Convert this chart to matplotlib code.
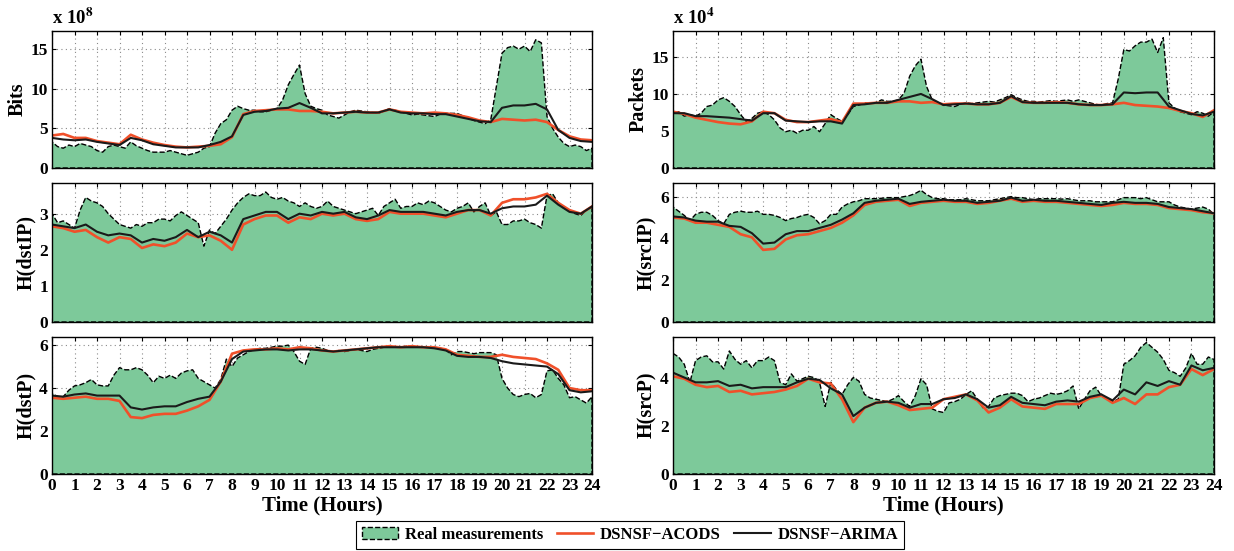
import numpy as np
import matplotlib.pyplot as plt
from matplotlib.patches import Patch
from matplotlib.lines import Line2D

plt.rcParams['font.family'] = ['Liberation Serif', 'DejaVu Serif']
plt.rcParams['font.weight'] = 'bold'
plt.rcParams['mathtext.fontset'] = 'stix'

# real measurements every 15 min, fitted signatures every 30 min
t_real = np.arange(0, 24.01, 0.25)
t_fit = np.arange(0, 24.01, 0.5)

# ---- Bits (x 1e8)
bits_real = [3.3, 2.7, 2.5, 2.9, 2.7, 3.1, 2.9, 2.7, 2.2, 2.0, 2.7, 2.9, 2.7, 2.5, 3.3, 2.8,
             2.5, 2.2, 2.0, 2.0, 2.0, 2.2, 2.0, 1.8, 1.6, 1.8, 2.0, 2.5, 2.7, 4.4, 5.6, 6.1,
             7.3, 7.8, 7.5, 7.3, 7.3, 7.1, 7.1, 7.3, 7.5, 8.6, 10.5, 11.8, 13.0, 9.4, 7.8, 7.5,
             7.3, 6.7, 6.5, 6.3, 6.7, 7.1, 7.3, 7.2, 7.1, 7.0, 6.9, 7.2, 7.5, 7.3, 7.1, 6.9,
             6.7, 6.8, 6.7, 6.6, 6.5, 6.8, 6.9, 6.9, 6.9, 6.6, 6.3, 6.0, 5.8, 5.6, 6.1, 10.3,
             14.5, 15.2, 15.4, 15.0, 15.4, 14.7, 16.2, 15.8, 6.5, 5.0, 3.9, 3.1, 2.7, 2.9, 2.7, 2.2,
             2.5]
bits_acods = [4.1, 4.3, 3.8, 3.8, 3.4, 3.2, 3.0, 4.2, 3.6, 3.2, 2.9, 2.7, 2.6, 2.7, 2.8, 3.0,
              3.9, 6.8, 7.2, 7.3, 7.4, 7.4, 7.2, 7.2, 7.1, 6.9, 7.0, 7.1, 7.0, 7.0, 7.4, 7.1,
              7.0, 6.9, 7.0, 6.9, 6.7, 6.4, 6.0, 5.8, 6.2, 6.1, 6.0, 6.1, 5.8, 4.8, 4.0, 3.6,
              3.5]
bits_arima = [3.8, 3.6, 3.5, 3.6, 3.3, 3.1, 2.9, 3.8, 3.5, 3.0, 2.8, 2.6, 2.6, 2.6, 2.9, 3.3,
              4.0, 6.7, 7.1, 7.2, 7.5, 7.6, 8.2, 7.6, 6.9, 6.9, 7.0, 7.1, 7.0, 7.0, 7.4, 7.0,
              6.9, 6.9, 6.8, 6.8, 6.5, 6.2, 5.9, 5.8, 7.6, 7.9, 7.9, 8.1, 7.4, 4.8, 3.8, 3.4,
              3.3]

# ---- Packets (x 1e4)
pk_real = [7.4, 7.6, 7.0, 7.2, 7.0, 7.4, 8.3, 8.5, 9.2, 9.5, 9.0, 8.3, 7.2, 6.3, 6.7, 7.4,
           7.6, 7.2, 6.5, 5.4, 4.9, 5.1, 4.7, 5.1, 5.1, 5.6, 4.9, 6.0, 7.2, 6.7, 6.3, 7.2,
           8.3, 8.5, 8.8, 8.8, 8.8, 9.2, 9.0, 9.0, 9.2, 10.1, 12.4, 13.8, 14.7, 11.0, 9.2, 8.8,
           8.5, 8.4, 8.3, 8.6, 8.8, 8.7, 8.8, 8.9, 9.0, 8.9, 9.2, 9.5, 9.9, 9.5, 9.2, 9.0,
           9.0, 8.9, 9.0, 9.1, 9.0, 9.1, 9.2, 9.0, 9.2, 9.0, 8.8, 8.6, 8.5, 8.7, 8.8, 12.0,
           16.0, 15.8, 16.5, 17.0, 17.0, 17.4, 15.6, 17.6, 8.8, 8.1, 7.6, 7.4, 7.2, 7.6, 7.4, 7.0,
           7.6]
pk_acods = [7.6, 7.3, 6.8, 6.5, 6.2, 6.0, 5.9, 6.3, 7.6, 7.4, 6.5, 6.2, 6.2, 6.4, 6.6, 6.2,
            8.7, 8.7, 8.8, 8.8, 9.0, 9.0, 8.8, 8.9, 8.6, 8.7, 8.7, 8.6, 8.6, 8.8, 9.6, 8.9,
            8.8, 8.8, 8.9, 8.8, 8.6, 8.5, 8.5, 8.6, 8.8, 8.5, 8.4, 8.3, 8.1, 7.7, 7.4, 6.9,
            7.8]
pk_arima = [7.4, 7.4, 7.0, 7.0, 6.9, 6.8, 6.6, 6.4, 7.4, 7.4, 6.4, 6.3, 6.2, 6.3, 6.3, 6.0,
            8.5, 8.6, 8.8, 8.8, 9.2, 9.6, 10.0, 9.3, 8.5, 8.6, 8.7, 8.6, 8.6, 8.8, 9.7, 8.9,
            8.8, 8.8, 8.8, 8.8, 8.6, 8.5, 8.5, 8.6, 10.2, 10.1, 10.2, 10.2, 8.3, 7.8, 7.3, 7.1,
            7.6]

# ---- H(dstIP)
dip_real = [3.0, 2.75, 2.8, 2.7, 2.6, 3.1, 3.45, 3.35, 3.3, 3.2, 3.0, 2.85, 2.7, 2.65, 2.6, 2.7,
            2.65, 2.75, 2.75, 2.85, 2.85, 2.8, 2.95, 3.05, 2.95, 2.85, 2.75, 2.1, 2.55, 2.45, 2.65, 2.85,
            3.1, 3.3, 3.45, 3.55, 3.5, 3.5, 3.6, 3.45, 3.4, 3.45, 3.35, 3.3, 3.2, 3.3, 3.2, 3.15,
            3.2, 3.35, 3.2, 3.15, 3.1, 3.05, 3.0, 3.05, 3.1, 3.15, 2.95, 3.2, 3.3, 3.4, 3.15, 3.2,
            3.2, 3.3, 3.25, 3.35, 3.3, 3.2, 3.1, 3.05, 3.15, 3.2, 3.3, 3.05, 3.2, 3.3, 2.95, 3.05,
            2.7, 2.7, 2.8, 2.8, 2.85, 2.75, 2.7, 2.6, 3.5, 3.55, 3.3, 3.15, 3.1, 3.0, 2.95, 3.1,
            3.2]
dip_acods = [2.65, 2.6, 2.5, 2.55, 2.35, 2.2, 2.35, 2.3, 2.05, 2.15, 2.1, 2.2, 2.45, 2.35, 2.4, 2.25,
             2.0, 2.7, 2.85, 2.95, 2.95, 2.75, 2.9, 2.85, 3.0, 2.95, 3.0, 2.85, 2.8, 2.85, 3.05, 3.0,
             3.0, 3.0, 2.95, 2.9, 3.0, 3.1, 3.1, 2.95, 3.3, 3.4, 3.4, 3.45, 3.55, 3.3, 3.1, 3.0,
             3.2]
dip_arima = [2.7, 2.65, 2.6, 2.7, 2.5, 2.4, 2.45, 2.4, 2.2, 2.3, 2.25, 2.35, 2.55, 2.35, 2.5, 2.4,
             2.2, 2.85, 2.95, 3.05, 3.05, 2.85, 3.0, 2.95, 3.05, 3.0, 3.05, 2.9, 2.85, 2.95, 3.1, 3.05,
             3.05, 3.05, 3.0, 2.95, 3.05, 3.1, 3.1, 3.0, 3.15, 3.2, 3.2, 3.25, 3.5, 3.25, 3.05, 3.0,
             3.2]

# ---- H(srcIP)
sip_real = [5.5, 5.3, 5.1, 4.85, 5.15, 5.25, 5.25, 5.1, 4.85, 4.7, 5.15, 5.25, 5.3, 5.25, 5.25, 5.3,
            5.15, 5.15, 5.1, 5.0, 4.85, 4.95, 5.0, 5.1, 5.15, 5.0, 4.7, 4.85, 5.15, 5.15, 5.5, 5.65,
            5.75, 5.8, 5.9, 5.9, 5.9, 5.92, 5.95, 5.95, 5.95, 6.0, 6.05, 6.15, 6.3, 6.1, 5.95, 5.9,
            5.9, 5.85, 5.85, 5.85, 5.9, 5.85, 5.8, 5.8, 5.8, 5.85, 5.9, 5.95, 6.0, 5.95, 5.95, 5.9,
            5.85, 5.9, 5.9, 5.9, 5.9, 5.88, 5.9, 5.85, 5.8, 5.8, 5.8, 5.75, 5.75, 5.75, 5.75, 5.85,
            5.95, 5.95, 5.95, 5.9, 5.95, 5.85, 5.75, 5.75, 5.75, 5.6, 5.5, 5.45, 5.4, 5.45, 5.5, 5.4,
            5.15]
sip_acods = [5.0, 4.95, 4.75, 4.75, 4.65, 4.55, 4.2, 4.05, 3.45, 3.5, 3.95, 4.15, 4.2, 4.35, 4.5, 4.75,
             5.1, 5.6, 5.75, 5.8, 5.85, 5.55, 5.7, 5.75, 5.8, 5.75, 5.75, 5.65, 5.7, 5.8, 5.9, 5.75,
             5.8, 5.75, 5.75, 5.7, 5.65, 5.6, 5.55, 5.6, 5.7, 5.65, 5.65, 5.6, 5.45, 5.4, 5.35, 5.25,
             5.2]
sip_arima = [5.05, 5.0, 4.85, 4.8, 4.8, 4.6, 4.55, 4.25, 3.75, 3.8, 4.2, 4.35, 4.35, 4.5, 4.65, 4.9,
             5.2, 5.7, 5.8, 5.85, 5.9, 5.65, 5.75, 5.8, 5.85, 5.8, 5.8, 5.7, 5.75, 5.8, 5.95, 5.8,
             5.85, 5.8, 5.8, 5.75, 5.7, 5.65, 5.6, 5.7, 5.75, 5.7, 5.7, 5.65, 5.5, 5.45, 5.4, 5.3,
             5.2]

# ---- H(dstP)
dp_real = [3.75, 3.6, 3.6, 3.9, 4.1, 4.15, 4.25, 4.4, 4.15, 4.1, 4.1, 4.6, 4.95, 4.85, 4.85, 4.95,
           4.85, 4.6, 4.25, 4.55, 4.45, 4.6, 4.45, 4.7, 4.8, 4.85, 4.45, 4.3, 4.15, 4.0, 4.4, 5.35,
           5.0, 5.4, 5.55, 5.7, 5.8, 5.85, 5.85, 5.9, 5.95, 5.95, 6.0, 5.7, 5.25, 5.1, 5.85, 5.9,
           5.85, 5.75, 5.7, 5.75, 5.7, 5.75, 5.8, 5.75, 5.7, 5.8, 5.85, 5.9, 5.95, 5.9, 5.9, 5.95,
           5.95, 5.9, 5.9, 5.9, 5.85, 5.85, 5.8, 5.55, 5.7, 5.7, 5.65, 5.6, 5.65, 5.65, 5.65, 5.55,
           4.45, 4.0, 3.7, 3.6, 3.7, 3.75, 3.55, 3.7, 4.8, 4.85, 4.45, 4.15, 3.55, 3.6, 3.45, 3.3,
           3.6]
dp_acods = [3.55, 3.5, 3.55, 3.6, 3.5, 3.5, 3.4, 2.65, 2.6, 2.75, 2.8, 2.8, 2.95, 3.15, 3.45, 4.3,
            5.6, 5.75, 5.8, 5.8, 5.85, 5.8, 5.9, 5.85, 5.75, 5.7, 5.75, 5.8, 5.85, 5.9, 5.95, 5.9,
            5.95, 5.9, 5.9, 5.8, 5.55, 5.5, 5.45, 5.45, 5.55, 5.45, 5.4, 5.35, 5.15, 4.85, 4.0, 3.9,
            3.9]
dp_arima = [3.65, 3.6, 3.7, 3.75, 3.65, 3.65, 3.65, 3.1, 3.0, 3.1, 3.15, 3.15, 3.35, 3.5, 3.6, 4.3,
            5.35, 5.7, 5.75, 5.8, 5.8, 5.75, 5.8, 5.8, 5.75, 5.7, 5.75, 5.8, 5.85, 5.9, 5.9, 5.9,
            5.9, 5.9, 5.85, 5.75, 5.5, 5.45, 5.45, 5.4, 5.25, 5.15, 5.1, 5.05, 5.0, 4.65, 3.9, 3.8,
            3.85]

# ---- H(srcP)
sp_real = [5.0, 4.85, 4.55, 3.8, 4.7, 4.85, 4.9, 4.65, 4.65, 4.35, 5.1, 4.75, 4.55, 4.7, 4.4, 4.7,
           4.7, 4.85, 4.7, 3.8, 3.7, 4.15, 3.85, 3.95, 4.05, 4.0, 3.8, 2.8, 3.8, 3.5, 3.3, 3.7,
           4.0, 3.85, 3.3, 3.15, 3.1, 3.05, 3.0, 3.1, 3.25, 3.0, 2.8, 3.25, 3.95, 3.7, 2.7, 2.6,
           2.55, 2.95, 3.0, 3.1, 3.3, 3.45, 3.1, 2.75, 2.8, 3.15, 3.25, 3.3, 3.35, 3.35, 3.25, 3.0,
           3.1, 3.15, 3.25, 3.35, 3.3, 3.35, 3.45, 3.65, 2.7, 3.1, 3.45, 3.6, 3.25, 3.15, 3.0, 3.1,
           4.55, 4.7, 4.9, 5.25, 5.45, 5.25, 5.05, 4.75, 4.3, 4.2, 4.05, 4.4, 5.0, 4.55, 4.55, 4.85,
           4.75]
sp_acods = [4.05, 3.95, 3.7, 3.6, 3.65, 3.4, 3.45, 3.3, 3.35, 3.4, 3.5, 3.65, 3.95, 3.8, 3.75, 3.1,
            2.15, 2.75, 2.95, 3.0, 2.85, 2.65, 2.7, 2.75, 3.1, 3.2, 3.3, 3.05, 2.55, 2.75, 3.1, 2.8,
            2.75, 2.7, 2.9, 2.9, 2.9, 3.15, 3.25, 2.95, 3.15, 2.9, 3.3, 3.3, 3.6, 3.7, 4.35, 4.1,
            4.35]
sp_arima = [4.2, 4.0, 3.8, 3.8, 3.85, 3.65, 3.7, 3.55, 3.6, 3.6, 3.6, 3.8, 3.95, 3.9, 3.55, 3.3,
            2.4, 2.75, 2.95, 3.0, 2.95, 2.75, 2.9, 2.9, 3.1, 3.15, 3.3, 3.1, 2.75, 2.85, 3.2, 2.95,
            2.9, 2.85, 3.0, 3.05, 3.0, 3.2, 3.3, 3.05, 3.5, 3.3, 3.8, 3.65, 3.85, 3.7, 4.5, 4.3,
            4.4]

green = '#7dc99a'
red = '#f0502a'

panels = [
    # (real, acods, arima, ylabel, ylim, yticks, exponent)
    (bits_real, bits_acods, bits_arima, 'Bits', 17.3, [0, 5, 10, 15], '8'),
    (pk_real, pk_acods, pk_arima, 'Packets', 18.5, [0, 5, 10, 15], '4'),
    (dip_real, dip_acods, dip_arima, 'H(dstIP)', 3.85, [0, 1, 2, 3], None),
    (sip_real, sip_acods, sip_arima, 'H(srcIP)', 6.65, [0, 2, 4, 6], None),
    (dp_real, dp_acods, dp_arima, 'H(dstP)', 6.4, [0, 2, 4, 6], None),
    (sp_real, sp_acods, sp_arima, 'H(srcP)', 5.7, [0, 2, 4], None),
]

W, H = 1234, 551
fig = plt.figure(figsize=(W / 100, H / 100), dpi=100)

cols = [(52, 592), (673, 1214)]
rows = [(31, 168), (183, 322), (336.5, 474)]

for i, (real, acods, arima, ylab, ytop, yt, expo) in enumerate(panels):
    r, c = divmod(i, 2)
    x0, x1 = cols[c]
    y0, y1 = rows[r]
    ax = fig.add_axes([x0 / W, 1 - y1 / H, (x1 - x0) / W, (y1 - y0) / H])
    ax.set_axisbelow(True)
    ax.grid(True, linestyle=(0, (1, 3)), color='#8a8a8a', linewidth=0.8)
    ax.fill_between(t_real, 0, real, facecolor=green, edgecolor='k',
                    linestyle='--', linewidth=1.0)
    ax.plot(t_fit, acods, color=red, linewidth=1.9)
    ax.plot(t_fit, arima, color='#1a1a1a', linewidth=1.5)
    ax.set_xlim(0, 24)
    ax.set_ylim(0, ytop)
    ax.set_xticks(range(25))
    ax.set_yticks(yt)
    ax.tick_params(direction='in', labelsize=12.5, length=3, top=True, right=True, pad=3)
    for s in ax.spines.values():
        s.set_linewidth(1.0)
    ax.set_ylabel(ylab, fontsize=14.5, fontweight='bold', labelpad=2)
    if r < 2:
        ax.set_xticklabels([])
    else:
        ax.set_xlabel('Time (Hours)', fontsize=15, fontweight='bold', labelpad=1)
    if expo:
        ax.text(0.0, 1.02, 'x 10$^{\\mathbf{%s}}$' % expo, transform=ax.transAxes,
                fontsize=13.5, fontweight='bold', ha='left', va='bottom')

handles = [
    Patch(facecolor=green, edgecolor='k', linestyle='--', linewidth=1.0),
    Line2D([], [], color=red, linewidth=1.9),
    Line2D([], [], color='#1a1a1a', linewidth=1.5),
]
labels = ['Real measurements', 'DSNSF\u2212ACODS', 'DSNSF\u2212ARIMA']
leg = fig.legend(handles, labels, loc='center', bbox_to_anchor=(630 / W, 1 - 535 / H),
                 ncol=3, frameon=True, fancybox=False, edgecolor='k', framealpha=1,
                 fontsize=12, handlelength=2.2, columnspacing=0.8, borderpad=0.35,
                 handletextpad=0.4)
leg.get_frame().set_linewidth(0.8)
for txt in leg.get_texts():
    txt.set_fontweight('bold')

fig.savefig('out.png', dpi=100)
